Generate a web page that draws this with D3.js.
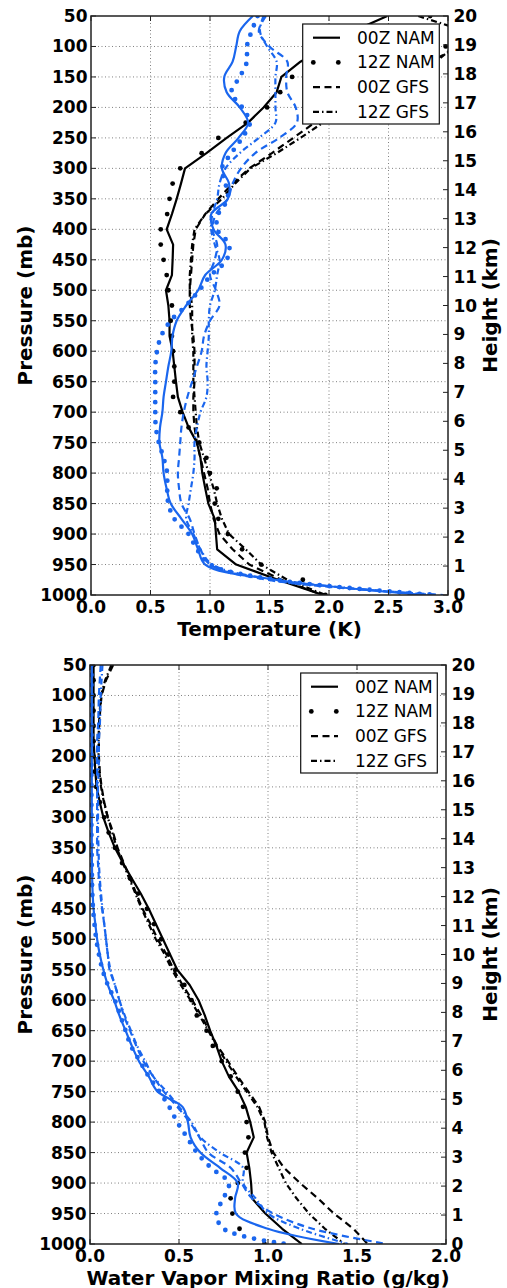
<!DOCTYPE html>
<html>
<head>
<meta charset="utf-8">
<script src="https://cdn.jsdelivr.net/npm/d3@7"></script>
<style>
html,body{margin:0;padding:0;background:#fff;}
svg{display:block;}
text{font-family:"DejaVu Sans",sans-serif;}
</style>
</head>
<body>
<svg id="chart" width="507" height="1288"></svg>
<script>
// ---------------- DATA ----------------
const pressureLevels = [50,75,100,125,150,175,200,225,250,275,300,325,350,375,400,425,450,475,500,525,550,575,600,625,650,675,700,725,750,775,800,825,850,875,900,925,950,975,1000];
const pressureTicks = [50,100,150,200,250,300,350,400,450,500,550,600,650,700,750,800,850,900,950,1000];
const heightTicks = [0,1,2,3,4,5,6,7,8,9,10,11,12,13,14,15,16,17,18,19,20];
const tempTicks = [0.0,0.5,1.0,1.5,2.0,2.5,3.0];
const wvTicks = [0.0,0.5,1.0,1.5,2.0];
const seriesNames = ["00Z NAM","12Z NAM","00Z GFS","12Z GFS"];

// Temperature panel, black
const tNam00K = [2.49,2.20,1.98,1.76,1.60,1.56,1.45,1.32,1.14,0.97,0.79,0.756,0.72,0.68,0.636,0.69,0.686,0.68,0.63,0.65,0.66,0.66,0.686,0.70,0.714,0.73,0.77,0.82,0.89,0.92,0.935,0.96,0.986,1.04,1.05,1.06,1.22,1.57,1.95];
const tNam12K = [2.85,3.05,2.98,2.20,1.69,1.59,1.48,1.30,1.07,0.93,0.75,0.686,0.66,0.64,0.586,0.586,0.61,0.636,0.65,0.68,0.67,0.68,0.69,0.70,0.70,0.69,0.75,0.82,0.91,0.97,1.00,1.056,1.04,1.07,1.15,1.27,1.43,1.78,1.97];
const tGfs00K = [3.3,3.2,3.1,2.85,2.50,2.25,2.05,1.88,1.70,1.52,1.33,1.19,1.07,0.96,0.88,0.86,0.85,0.84,0.83,0.83,0.84,0.86,0.87,0.87,0.87,0.86,0.86,0.87,0.89,0.92,0.95,0.98,1.00,1.03,1.08,1.19,1.33,1.60,1.95];
const tGfs12K = [2.75,3.15,3.05,2.90,2.55,2.30,2.12,1.95,1.76,1.56,1.34,1.21,1.10,0.96,0.87,0.85,0.84,0.83,0.83,0.85,0.85,0.85,0.86,0.86,0.86,0.87,0.88,0.89,0.91,0.95,0.99,1.03,1.06,1.10,1.16,1.30,1.43,1.65,1.97];
// Temperature panel, blue
const tNam00B = [1.36,1.25,1.22,1.19,1.12,1.14,1.25,1.32,1.24,1.13,1.10,1.16,1.15,1.01,1.03,1.13,1.10,0.96,0.90,0.80,0.72,0.685,0.675,0.65,0.63,0.61,0.60,0.58,0.575,0.60,0.61,0.635,0.67,0.76,0.85,0.90,0.96,1.55,2.82];
const tNam12B = [1.40,1.35,1.31,1.31,1.25,1.18,1.27,1.335,1.27,1.18,1.10,1.13,1.15,1.07,1.06,1.16,1.14,1.01,0.91,0.80,0.67,0.59,0.555,0.54,0.54,0.54,0.54,0.545,0.57,0.61,0.64,0.64,0.65,0.70,0.82,0.89,1.00,1.55,2.90];
const tGfs00B = [1.47,1.41,1.50,1.65,1.64,1.65,1.72,1.73,1.58,1.38,1.26,1.19,1.15,1.05,1.02,1.06,1.04,1.00,1.05,1.08,1.00,0.95,0.93,0.89,0.85,0.81,0.78,0.76,0.75,0.74,0.73,0.74,0.76,0.83,0.87,0.92,1.00,1.48,2.96];
const tGfs12B = [1.45,1.42,1.48,1.56,1.55,1.55,1.55,1.55,1.41,1.25,1.13,1.08,1.06,1.02,1.01,1.04,1.08,1.06,1.04,1.00,0.99,0.99,0.98,0.97,0.98,0.97,0.92,0.89,0.87,0.87,0.86,0.84,0.82,0.80,0.86,0.92,1.02,1.55,2.90];

// Water vapor panel, black
const wNam00K = [0.02,0.02,0.02,0.02,0.02,0.02,0.025,0.03,0.037,0.055,0.075,0.105,0.14,0.185,0.234,0.285,0.33,0.37,0.41,0.45,0.49,0.56,0.61,0.645,0.675,0.71,0.74,0.78,0.835,0.875,0.90,0.92,0.88,0.895,0.905,0.91,0.985,1.08,1.19];
const wNam12K = [0.02,0.02,0.02,0.02,0.02,0.02,0.02,0.025,0.035,0.055,0.08,0.105,0.14,0.18,0.225,0.27,0.32,0.36,0.40,0.44,0.48,0.53,0.57,0.60,0.655,0.69,0.74,0.79,0.83,0.86,0.88,0.89,0.87,0.88,0.83,0.79,0.80,0.84,0.98];
const wGfs00K = [0.13,0.09,0.065,0.057,0.052,0.05,0.05,0.055,0.065,0.08,0.10,0.13,0.155,0.19,0.225,0.26,0.295,0.34,0.38,0.43,0.47,0.52,0.575,0.625,0.67,0.715,0.775,0.83,0.89,0.95,0.985,1.00,1.03,1.09,1.18,1.28,1.37,1.48,1.56];
const wGfs12K = [0.12,0.085,0.062,0.055,0.05,0.048,0.048,0.052,0.062,0.078,0.10,0.125,0.15,0.185,0.22,0.255,0.29,0.33,0.37,0.42,0.46,0.51,0.565,0.615,0.665,0.71,0.765,0.82,0.88,0.94,0.98,0.995,1.02,1.06,1.10,1.16,1.23,1.32,1.43];
// Water vapor panel, blue
const wNam00B = [0.01,0.01,0.01,0.01,0.01,0.01,0.01,0.01,0.01,0.01,0.01,0.01,0.01,0.011,0.012,0.015,0.02,0.03,0.04,0.055,0.075,0.10,0.135,0.165,0.20,0.235,0.275,0.33,0.38,0.52,0.55,0.565,0.62,0.73,0.83,0.815,0.82,1.00,1.40];
const wNam12B = [0.008,0.008,0.008,0.008,0.008,0.008,0.008,0.008,0.008,0.008,0.008,0.008,0.009,0.01,0.011,0.013,0.017,0.025,0.035,0.05,0.07,0.10,0.14,0.17,0.20,0.23,0.28,0.33,0.39,0.445,0.49,0.545,0.60,0.68,0.78,0.75,0.71,0.75,1.10];
const wGfs00B = [0.06,0.055,0.05,0.048,0.045,0.04,0.04,0.04,0.04,0.04,0.04,0.04,0.04,0.045,0.05,0.058,0.068,0.08,0.09,0.10,0.11,0.14,0.165,0.19,0.225,0.26,0.30,0.355,0.415,0.49,0.56,0.615,0.665,0.79,0.85,0.91,1.03,1.25,1.67];
const wGfs12B = [0.07,0.065,0.06,0.058,0.055,0.05,0.05,0.048,0.045,0.045,0.045,0.045,0.048,0.05,0.055,0.062,0.07,0.08,0.09,0.10,0.115,0.14,0.165,0.195,0.23,0.265,0.31,0.355,0.43,0.50,0.57,0.62,0.73,0.86,0.86,0.93,1.00,1.18,1.45];

// ---------------- DRAWING ----------------
const svg = d3.select("#chart");
const BLACK = "#000";
const BLUE = "#1a66ee";
const styles = [
  {type:"line", dash:null},
  {type:"dots", dash:null},
  {type:"line", dash:"7,4.5"},
  {type:"line", dash:"6,3,1.5,3"}
];

function drawPanel(cfg, idx){
  const {left,right,top,bottom,xMax,xTicks,xLabel,black,blue} = cfg;
  const g = svg.append("g");
  const x = d3.scaleLinear().domain([0,xMax]).range([left,right]);
  const y = d3.scaleLinear().domain([50,1000]).range([top,bottom]);
  const h = d3.scaleLinear().domain([0,20]).range([bottom,top]);

  const clipId = "clip"+idx;
  svg.append("clipPath").attr("id",clipId).append("rect")
    .attr("x",left).attr("y",top).attr("width",right-left).attr("height",bottom-top);

  // grid
  const grid = g.append("g").attr("stroke","#808080").attr("stroke-width",1).attr("stroke-dasharray","1,2.5");
  xTicks.forEach(v=>{ if(v>0 && v<xMax) grid.append("line").attr("x1",x(v)).attr("x2",x(v)).attr("y1",top).attr("y2",bottom); });
  pressureTicks.forEach(p=>{ if(p>50 && p<1000) grid.append("line").attr("x1",left).attr("x2",right).attr("y1",y(p)).attr("y2",y(p)); });

  const plot = g.append("g").attr("clip-path",`url(#${clipId})`);
  function drawSeries(vals, st, color, smooth){
    const pts = pressureLevels.map((p,i)=>[x(vals[i]), y(p)]);
    if(st.type==="dots"){
      if(color===BLACK){
        plot.append("g").selectAll("circle").data(pts).join("circle")
          .attr("cx",d=>d[0]).attr("cy",d=>d[1]).attr("r",2.4).attr("fill",color);
      } else {
        const line = d3.line().curve(d3.curveCatmullRom.alpha(0.5));
        plot.append("path").attr("d",line(pts)).attr("fill","none").attr("stroke",color)
          .attr("stroke-width",4.8).attr("stroke-linecap","round").attr("stroke-dasharray","0,10");
      }
      return;
    }
    const line = d3.line().curve(smooth ? d3.curveCatmullRom.alpha(0.5) : d3.curveLinear);
    const path = plot.append("path").attr("d",line(pts)).attr("fill","none").attr("stroke",color)
      .attr("stroke-width",2.2).attr("stroke-linejoin","round");
    if(st.dash) path.attr("stroke-dasharray",st.dash);
  }
  black.forEach((vals,i)=>drawSeries(vals, styles[i], BLACK, false));
  blue.forEach((vals,i)=>drawSeries(vals, styles[i], BLUE, true));

  // ticks (inward)
  const tk = g.append("g").attr("stroke","#222").attr("stroke-width",1);
  xTicks.forEach(v=>{
    tk.append("line").attr("x1",x(v)).attr("x2",x(v)).attr("y1",bottom).attr("y2",bottom-5);
    tk.append("line").attr("x1",x(v)).attr("x2",x(v)).attr("y1",top).attr("y2",top+5);
  });
  pressureTicks.forEach(p=>{
    tk.append("line").attr("x1",left).attr("x2",left+5).attr("y1",y(p)).attr("y2",y(p));
  });
  heightTicks.forEach(k=>{
    tk.append("line").attr("x1",right).attr("x2",right-5).attr("y1",h(k)).attr("y2",h(k));
  });

  // frame
  g.append("rect").attr("x",left).attr("y",top).attr("width",right-left).attr("height",bottom-top)
    .attr("fill","none").attr("stroke","#222").attr("stroke-width",1.5);

  // tick labels
  const lab = g.append("g").attr("font-size",17).attr("font-weight","bold").attr("fill","#000");
  pressureTicks.forEach(p=>{
    lab.append("text").attr("x",left-3.5).attr("y",y(p)).attr("text-anchor","end")
      .attr("dominant-baseline","central").text(p);
  });
  heightTicks.forEach(k=>{
    lab.append("text").attr("x",right+5.5).attr("y",h(k)).attr("text-anchor","start")
      .attr("dominant-baseline","central").text(k);
  });
  xTicks.forEach(v=>{
    lab.append("text").attr("x",x(v)).attr("y",bottom+18).attr("text-anchor","middle")
      .text(d3.format(".1f")(v));
  });

  // axis titles
  g.append("text").attr("x",(left+right)/2).attr("y",bottom+40.5).attr("text-anchor","middle")
    .attr("font-size",20).attr("font-weight","bold").text(xLabel);
  g.append("text").attr("transform",`translate(25,${(top+bottom)/2}) rotate(-90)`)
    .attr("text-anchor","middle").attr("dominant-baseline","central")
    .attr("font-size",20).attr("font-weight","bold").text("Pressure (mb)");
  g.append("text").attr("transform",`translate(490,${(top+bottom)/2}) rotate(-90)`)
    .attr("text-anchor","middle").attr("dominant-baseline","central")
    .attr("font-size",20).attr("font-weight","bold").text("Height (km)");

  // legend
  const lx = right-8.7-136.6, ly = top+8;
  const lg = g.append("g");
  lg.append("rect").attr("x",lx).attr("y",ly).attr("width",136.6).attr("height",100)
    .attr("fill","#fff").attr("stroke","#111").attr("stroke-width",1.2);
  seriesNames.forEach((name,i)=>{
    const cy = ly + 13.7 + i*24.7;
    const st = styles[i];
    if(st.type==="dots"){
      lg.append("circle").attr("cx",lx+10.6).attr("cy",cy).attr("r",2.4).attr("fill",BLACK);
      lg.append("circle").attr("cx",lx+35.6).attr("cy",cy).attr("r",2.4).attr("fill",BLACK);
    } else {
      const ln = lg.append("line").attr("x1",lx+10.3).attr("x2",lx+37.3).attr("y1",cy).attr("y2",cy)
        .attr("stroke",BLACK).attr("stroke-width",2.2);
      if(st.dash) ln.attr("stroke-dasharray",st.dash);
    }
    lg.append("text").attr("x",lx+54.3).attr("y",cy).attr("dominant-baseline","central")
      .attr("font-size",17).text(name);
  });
}

drawPanel({left:91,right:448,top:16,bottom:595,xMax:3,xTicks:tempTicks,xLabel:"Temperature (K)",
  black:[tNam00K,tNam12K,tGfs00K,tGfs12K], blue:[tNam00B,tNam12B,tGfs00B,tGfs12B]}, 0);
drawPanel({left:90,right:446,top:665,bottom:1244,xMax:2,xTicks:wvTicks,xLabel:"Water Vapor Mixing Ratio (g/kg)",
  black:[wNam00K,wNam12K,wGfs00K,wGfs12K], blue:[wNam00B,wNam12B,wGfs00B,wGfs12B]}, 1);
</script>
</body>
</html>
